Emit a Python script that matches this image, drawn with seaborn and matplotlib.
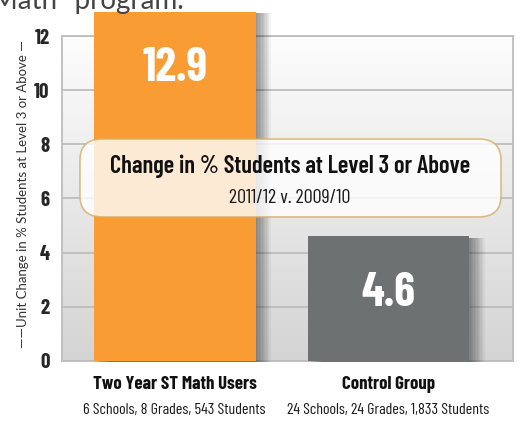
import matplotlib
matplotlib.use("Agg")
import numpy as np
import pandas as pd
import matplotlib.pyplot as plt
import matplotlib.patheffects as pe
from matplotlib.colors import LinearSegmentedColormap
from matplotlib.patches import FancyBboxPatch
import seaborn as sns

# Dados do gráfico
grupos = ["Two Year ST Math Users", "Control Group"]
detalhes = ["6 Schools, 8 Grades, 543 Students", "24 Schools, 24 Grades, 1,833 Students"]
valores = [12.9, 4.6]
cores = ["#F99C33", "#6E7171"]
ticks_y = [0, 2, 4, 6, 8, 10, 12]

# fontes: condensada para os rótulos, humanista para o eixo
COND = ["Barlow Condensed", "Liberation Sans Narrow", "DejaVu Sans"]
HUM = ["Lato", "Open Sans", "DejaVu Sans"]

sns.set_theme(style="white")
plt.rcParams["font.family"] = COND

df = pd.DataFrame({"grupo": grupos, "valor": valores})

fig = plt.figure(figsize=(5.2, 4.24), dpi=100)
ax = fig.add_axes([0.119, 0.149, 0.868, 0.766])

# fundo em degradê
grad = np.linspace(0, 1, 256).reshape(-1, 1)
cmap_fundo = LinearSegmentedColormap.from_list("fundo", ["#FDFDFD", "#D4D4D4"])
ax.imshow(grad, extent=[0, 1, 0, 1], transform=ax.transAxes, cmap=cmap_fundo,
          aspect="auto", zorder=0, origin="upper")

sns.barplot(data=df, x="grupo", y="valor", hue="grupo", palette=cores, legend=False,
            width=0.757, saturation=1, linewidth=0, ax=ax, zorder=3)

# sombra suave à direita das barras
sombra = [pe.SimplePatchShadow(offset=(k, -1), shadow_rgbFace="#000000", alpha=0.045) for k in range(1, 12)]
for barra in ax.patches:
    barra.set_clip_on(False)
    barra.set_path_effects(sombra + [pe.Normal()])

ax.set_xlim(-0.528, 1.584)
ax.set_ylim(0, 12)
ax.set_yticks(ticks_y)
ax.yaxis.grid(True, color="#BDBDBD", linewidth=1.3, zorder=1)
ax.set_axisbelow(True)
for s in ax.spines.values():
    s.set_color("#BDBDBD")
    s.set_linewidth(1.3)
ax.tick_params(axis="y", length=0, pad=9, labelsize=15)
for t in ax.get_yticklabels():
    t.set_fontweight("bold")
ax.set_xlabel("")
ax.set_ylabel("")
ax.set_xticks(range(len(grupos)))
ax.set_xticklabels(grupos, fontsize=13.5, fontweight="bold", color="#111111")
ax.tick_params(axis="x", length=0, pad=11)

# detalhes das categorias
for i, d in enumerate(detalhes):
    ax.text(i, -0.152, d, transform=ax.get_xaxis_transform(), ha="center", va="center",
            fontsize=11.5, fontweight="normal", color="#1A1A1A")

# rótulos dos valores
for i, v in enumerate(valores):
    ax.text(i, v - 2.1, f"{v}", ha="center", va="center", fontsize=34, fontweight="bold",
            color="white", zorder=5)

# caixa central
caixa = FancyBboxPatch((0.04, 0.443), 0.933, 0.24, boxstyle="round,pad=0,rounding_size=0.05",
                       transform=ax.transAxes, facecolor="white", alpha=0.8, edgecolor="#D6AE68",
                       linewidth=1.2, zorder=6, mutation_aspect=1.3)
ax.add_patch(caixa)
ax.text(0.505, 0.6, "Change in % Students at Level 3 or Above", transform=ax.transAxes,
        ha="center", va="center", fontsize=17.7, fontweight="semibold", color="#111111", zorder=7)
ax.text(0.505, 0.5, "2011/12 v. 2009/10", transform=ax.transAxes, ha="center", va="center",
        fontsize=14.5, fontweight="normal", color="#1A1A1A", zorder=7)

# rótulo do eixo y
fig.text(0.044, 0.542, "\u2014\u2014Unit Change in % Students at Level 3 or Above \u2014",
         rotation=90, ha="center", va="center", fontsize=9.5, color="#333333", family=HUM)

# texto cortado no topo
fig.text(-0.015, 0.979, "Math\" program.", ha="left", va="baseline", fontsize=20,
         color="#444444", family=HUM)

fig.savefig("out.png", dpi=100)
